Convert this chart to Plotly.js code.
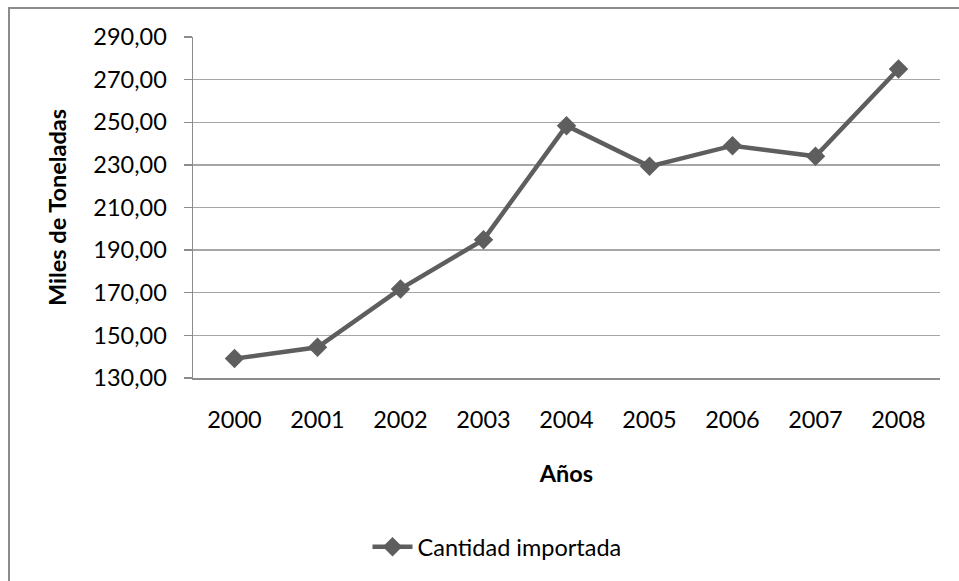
<!DOCTYPE html>
<html>
<head>
<meta charset="utf-8">
<script src="https://cdn.plot.ly/plotly-3.0.1.min.js"></script>
<style>html,body{margin:0;padding:0;background:#fff;}#chart{width:959px;height:581px;}</style>
</head>
<body>
<div id="chart"></div>
<script>
const years = ["2000","2001","2002","2003","2004","2005","2006","2007","2008"];
const cantidadImportada = [139.1, 144.4, 171.8, 194.9, 248.4, 229.3, 239.0, 234.0, 275.0];
const yTickVals = [130,150,170,190,210,230,250,270,290];
const yTickText = ["130,00","150,00","170,00","190,00","210,00","230,00","250,00","270,00","290,00"];
const seriesName = "Cantidad importada";
const xTitle = "Años";
const yTitle = "Miles de Toneladas";

const W = 959, H = 581;
const L = 193, R = 940, T = 37, B = 378;
const pw = R - L, ph = B - T;
const fontFam = "Lato, 'Open Sans', sans-serif";
const fs = 23.5;

const trace = {
  x: years, y: cantidadImportada, type: "scatter", mode: "lines+markers",
  name: seriesName,
  line: {color: "#5e5e5e", width: 4.5},
  marker: {symbol: "diamond", size: 15, color: "#5e5e5e"}
};

const layout = {
  width: W, height: H,
  margin: {l: L, r: W - R, t: T, b: H - B, pad: 0},
  paper_bgcolor: "#ffffff", plot_bgcolor: "#ffffff",
  font: {family: fontFam, size: fs, color: "#000"},
  showlegend: true,
  legend: {orientation: "h", x: (497 - L) / pw, xanchor: "center", y: (B - 547) / ph, yanchor: "middle",
           font: {family: fontFam, size: fs, color: "#000"}, itemwidth: 40},
  xaxis: {
    type: "category", range: [-0.5, 8.5], showgrid: false, zeroline: false,
    showline: true, linecolor: "#8c8c8c", linewidth: 1.5, ticks: "",
    ticklabelstandoff: 20, tickfont: {family: fontFam, size: fs, color: "#000"},
    title: {text: "<b>" + xTitle + "</b>", font: {family: fontFam, size: fs, color: "#000"}, standoff: 34},
    fixedrange: true
  },
  yaxis: {
    range: [130, 290], tickvals: yTickVals, ticktext: yTickText,
    showgrid: true, gridcolor: "#a6a6a6", gridwidth: 1.3, zeroline: false,
    showline: true, linecolor: "#8c8c8c", linewidth: 1.5,
    ticks: "outside", ticklen: 8, tickcolor: "#8c8c8c", tickwidth: 1.3,
    ticklabelstandoff: 12, tickfont: {family: fontFam, size: fs, color: "#000"},
    title: {text: "<b>" + yTitle + "</b>", font: {family: fontFam, size: fs, color: "#000"}, standoff: 20},
    fixedrange: true
  },
  shapes: [{
    type: "rect", xref: "paper", yref: "paper",
    x0: (9 - L) / pw, x1: (975 - L) / pw,
    y0: (B - 600) / ph, y1: (B - 8) / ph,
    line: {color: "#8c8c8c", width: 2}, fillcolor: "rgba(0,0,0,0)", layer: "below"
  }]
};

Plotly.newPlot("chart", [trace], layout, {displayModeBar: false, staticPlot: true});
</script>
</body>
</html>
